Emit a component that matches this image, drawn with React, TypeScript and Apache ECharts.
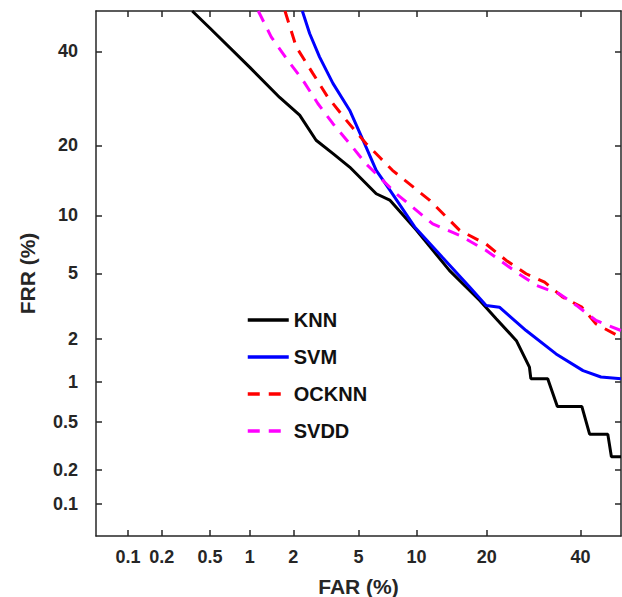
import React, { useEffect, useRef } from "react";
import * as echarts from "echarts";

// Tick values (percent) on both probit-scaled axes
const xTicks = [0.1, 0.2, 0.5, 1, 2, 5, 10, 20, 40];
const yTicks = [0.1, 0.2, 0.5, 1, 2, 5, 10, 20, 40];
const axisMinPct = 0.05;
const axisMaxPct = 50;

// Series: [FAR %, FRR %]
const knn: [number, number][] = [
  [0.36, 50], [0.5, 45.7], [1, 36.2], [1.62, 29.4], [2.2, 25.7], [2.8, 20.9],
  [3.54, 18.6], [4.45, 16.4], [6.25, 12.6], [7.36, 11.8], [10, 8.46], [14.1, 5.2],
  [18.8, 3.48], [21.7, 2.69], [25.6, 1.94], [28.3, 1.28], [28.6, 1.06], [32.3, 1.06],
  [34.5, 0.66], [40.3, 0.66], [42.2, 0.4], [46.7, 0.4], [47.6, 0.26], [50, 0.26],
];
const svm: [number, number][] = [
  [2.29, 50], [2.55, 44.4], [2.94, 38.7], [3.55, 32.5], [4.45, 26.7], [5.4, 20.3],
  [6.25, 15.9], [7.36, 13.1], [9.8, 8.8], [13.2, 6.1], [17.1, 4.2], [19.9, 3.25],
  [22.3, 3.17], [27.6, 2.26], [34.2, 1.58], [40.6, 1.21], [45, 1.09], [50, 1.06],
];
const ocknn: [number, number][] = [
  [1.76, 50], [2.09, 41.1], [2.67, 34.8], [3.3, 29.5], [4.25, 24.7], [5.5, 20.3],
  [6.5, 18], [7.6, 15.9], [11.5, 11.8], [15.6, 8.46], [19.9, 7.2], [23.6, 5.9],
  [27.6, 4.98], [31.6, 4.46], [35.8, 3.64], [40.3, 3.17], [43.8, 2.49], [50, 2.04],
];
const svdd: [number, number][] = [
  [1.15, 50], [1.42, 43.5], [1.8, 38.3], [2.31, 33.2], [2.87, 28.1], [3.55, 24],
  [4.45, 20.3], [5.5, 16.9], [7.96, 12.6], [11.9, 9.1], [15.6, 7.97], [19.9, 6.67],
  [25.6, 5.08], [29.8, 4.27], [35, 3.81], [39, 3.25], [43.8, 2.62], [50, 2.26],
];

// Inverse standard normal CDF (Acklam)
function probit(p: number): number {
  const a = [-3.969683028665376e1, 2.209460984245205e2, -2.759285104469687e2, 1.38357751867269e2, -3.066479806614716e1, 2.506628277459239];
  const b = [-5.447609879822406e1, 1.615858368580409e2, -1.556989798598866e2, 6.680131188771972e1, -1.328068155288572e1];
  const c = [-7.784894002430293e-3, -3.223964580411365e-1, -2.400758277161838, -2.549732539343734, 4.374664141464968, 2.938163982698783];
  const d = [7.784695709041462e-3, 3.224671290700398e-1, 2.445134137142996, 3.754408661907416];
  const pl = 0.02425;
  const ph = 1 - pl;
  if (p < pl) {
    const q = Math.sqrt(-2 * Math.log(p));
    return (((((c[0] * q + c[1]) * q + c[2]) * q + c[3]) * q + c[4]) * q + c[5]) /
      ((((d[0] * q + d[1]) * q + d[2]) * q + d[3]) * q + 1);
  }
  if (p <= ph) {
    const q = p - 0.5;
    const r = q * q;
    return ((((((a[0] * r + a[1]) * r + a[2]) * r + a[3]) * r + a[4]) * r + a[5]) * q) /
      (((((b[0] * r + b[1]) * r + b[2]) * r + b[3]) * r + b[4]) * r + 1);
  }
  const q = Math.sqrt(-2 * Math.log(1 - p));
  return -(((((c[0] * q + c[1]) * q + c[2]) * q + c[3]) * q + c[4]) * q + c[5]) /
    ((((d[0] * q + d[1]) * q + d[2]) * q + d[3]) * q + 1);
}
const pz = (pct: number) => probit(pct / 100);

const AX = "#262626";
const FONT = "'Liberation Sans', Arial, Helvetica, sans-serif";

function labelFor(ticks: number[]) {
  return (v: number) => {
    let best = ticks[0];
    let bd = Infinity;
    for (const t of ticks) {
      const dd = Math.abs(pz(t) - v);
      if (dd < bd) { bd = dd; best = t; }
    }
    return String(best);
  };
}

export default function App() {
  const ref = useRef<HTMLDivElement>(null);
  useEffect(() => {
    if (!ref.current) return;
    const chart = echarts.init(ref.current, undefined, { renderer: "svg" });
    const min = pz(axisMinPct);
    const max = pz(axisMaxPct);
    const xTickVals = xTicks.map(pz);
    const yTickVals = yTicks.map(pz);
    const lineAxis = { show: true, onZero: false, lineStyle: { color: AX, width: 1.5 } };
    const tickStyle = (vals: number[]) => ({
      show: true, inside: true, length: 6, customValues: vals,
      lineStyle: { color: AX, width: 1.5 },
    });
    const labelStyle = { fontFamily: FONT, fontWeight: "bold" as const, fontSize: 18, color: AX };
    const mk = (name: string, data: [number, number][], color: string, dashed: boolean) => ({
      name,
      type: "line",
      data: data.map(([x, y]) => [pz(x), pz(y)]),
      symbol: "none",
      lineStyle: { color, width: 3, type: dashed ? [12, 9] : "solid" },
      itemStyle: { color },
      clip: true,
    });
    chart.setOption({
      animation: false,
      backgroundColor: "#ffffff",
      grid: { left: 96, right: 1, top: 11, bottom: 61, containLabel: false, outerBoundsMode: "none" },
      legend: {
        orient: "vertical",
        left: 246,
        top: 310,
        padding: 0,
        itemWidth: 41,
        itemHeight: 18,
        itemGap: 17,
        itemStyle: { opacity: 0 },
        lineStyle: { width: 3.5 },
        textStyle: { fontFamily: FONT, fontWeight: "bold", fontSize: 20, color: "#111111" },
        data: ["KNN", "SVM", "OCKNN", "SVDD"],
      },
      xAxis: [
        {
          type: "value", min, max, position: "bottom",
          axisLine: lineAxis,
          axisTick: tickStyle(xTickVals),
          axisLabel: { ...labelStyle, customValues: xTickVals, formatter: labelFor(xTicks), margin: 12 },
          splitLine: { show: false },
          name: "FAR (%)", nameLocation: "middle", nameGap: 40,
          nameTextStyle: { fontFamily: FONT, fontWeight: "bold", fontSize: 21, color: AX },
        },
        {
          type: "value", min, max, position: "top",
          axisLine: lineAxis,
          axisTick: tickStyle(xTickVals),
          axisLabel: { show: false },
          splitLine: { show: false },
        },
      ],
      yAxis: [
        {
          type: "value", min, max, position: "left",
          axisLine: lineAxis,
          axisTick: tickStyle(yTickVals),
          axisLabel: { ...labelStyle, customValues: yTickVals, formatter: labelFor(yTicks), margin: 18 },
          splitLine: { show: false },
          name: "FRR (%)", nameLocation: "middle", nameGap: 58, nameRotate: 90,
          nameTextStyle: { fontFamily: FONT, fontWeight: "bold", fontSize: 21, color: AX },
        },
        {
          type: "value", min, max, position: "right",
          axisLine: lineAxis,
          axisTick: tickStyle(yTickVals),
          axisLabel: { show: false },
          splitLine: { show: false },
        },
      ],
      series: [
        mk("KNN", knn, "#000000", false),
        mk("SVM", svm, "#0000ff", false),
        mk("OCKNN", ocknn, "#ff0000", true),
        mk("SVDD", svdd, "#ff00ff", true),
      ],
    });
    return () => chart.dispose();
  }, []);
  return (
    <div
      ref={ref}
      style={{ position: "fixed", left: 0, top: 0, width: 622, height: 597 }}
    />
  );
}
